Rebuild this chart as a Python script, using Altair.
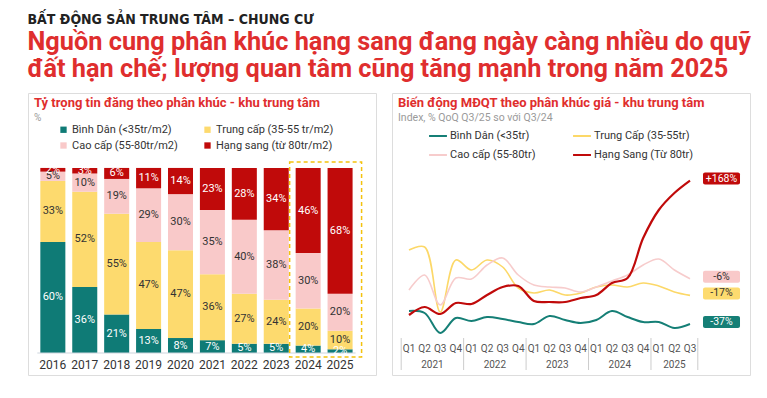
import altair as alt
import pandas as pd

# ---------------- data: stacked bars ----------------
years = ["2016", "2017", "2018", "2019", "2020", "2021", "2022", "2023", "2024", "2025"]
seg_names = ["Bình Dân (<35tr/m2)", "Trung cấp (35-55 tr/m2)", "Cao cấp (55-80tr/m2)", "Hạng sang (từ 80tr/m2)"]
binh_dan = [60, 36, 21, 13, 8, 7, 5, 5, 4, 2]
trung_cap = [33, 52, 55, 47, 47, 36, 27, 24, 20, 10]
cao_cap = [5, 10, 19, 29, 30, 35, 40, 38, 30, 20]
hang_sang = [2, 3, 6, 11, 14, 23, 28, 34, 46, 68]
seg_colors = ["#0f7b76", "#fdda6e", "#f9c9c9", "#c00a0a"]
seg_text = ["#ffffff", "#333333", "#333333", "#ffffff"]
highlight_years = ["2024", "2025"]

# ---------------- data: lines ----------------
q_years = [2021] * 4 + [2022] * 4 + [2023] * 4 + [2024] * 4 + [2025] * 3
q_names = ["Q1", "Q2", "Q3", "Q4"] * 4 + ["Q1", "Q2", "Q3"]
line_names = ["Bình Dân (<35tr)", "Trung Cấp (35-55tr)", "Cao cấp (55-80tr)", "Hạng Sang (Từ 80tr)"]
teal_idx = [25, 23, 3, 18, 15, 19, 17, 14, 12, 20, 16, 13, 16, 25, 19, 14, 14, 8, 12]
yellow_idx = [86, 89, 24, 76, 66, 76, 69, 48, 43, 46, 41, 43, 49, 51, 49, 53, 50, 44, 40.6]
pink_idx = [46, 61, 31, 58, 57, 71, 78, 61, 51, 49, 48, 44, 49, 55, 61, 71, 77, 66, 57.3]
red_idx = [21, 29, 22, 33, 32, 41, 49, 50, 35, 34, 34, 38, 41, 53, 58, 98, 126, 143, 155.4]
end_labels = ["-37%", "-17%", "-6%", "+168%"]
line_colors = ["#157f76", "#fcd868", "#f7cccc", "#c00a0a"]
box_colors = ["#157f76", "#fddb6f", "#f9c9c9", "#c00a0a"]
box_text = ["#ffffff", "#333333", "#333333", "#ffffff"]
line_widths = [2, 1.6, 1.6, 2.2]

RED = "#df2e2e"
FONT = "Roboto"

# legends are filled column by column: order entries so rows read like the reference
leg_order = [0, 2, 1, 3]

# ---------------- build tables ----------------
rows = []
for i, y in enumerate(years):
    for k, vals in enumerate([binh_dan, trung_cap, cao_cap, hang_sang]):
        rows.append({"year": y, "seg": seg_names[k], "ord": k, "v": vals[i],
                     "label": f"{vals[i]}%", "tc": seg_text[k]})
bar_df = pd.DataFrame(rows)
hl_df = pd.DataFrame({"a": [highlight_years[0]], "b": [highlight_years[-1]]})
base_df = pd.DataFrame({"a": [years[0]], "b": [years[-1]]})

lrows = []
for k, series in enumerate([teal_idx, yellow_idx, pink_idx, red_idx]):
    for t, v in enumerate(series):
        lrows.append({"t": t, "yr": q_years[t], "q": q_names[t], "s": line_names[k], "v": v,
                      "sw": line_widths[k], "pct": end_labels[k], "bc": box_colors[k],
                      "tc": box_text[k]})
line_df = pd.DataFrame(lrows)

yr_rows = []
uniq_years = sorted(set(q_years))
for y in uniq_years:
    ts = [t for t, yy in enumerate(q_years) if yy == y]
    yr_rows.append({"yr": str(y), "mid": sum(ts) / len(ts)})
yr_df = pd.DataFrame(yr_rows)
bounds = [min(t for t, yy in enumerate(q_years) if yy == y) - 0.5 for y in uniq_years] + [len(q_years) - 0.5]
sep_df = pd.DataFrame({"b": bounds})
q_df = pd.DataFrame({"t": list(range(len(q_names))), "q": q_names})

# ---------------- left panel ----------------
W1, H = 348, 282
xscale = alt.Scale(domain=years, paddingInner=0.216, paddingOuter=0.56, align=0.345)
yscale = alt.Scale(domain=[-0.119, 1.405], nice=False, zero=False)

bars = alt.Chart(bar_df).mark_bar().encode(
    x=alt.X("year:N", scale=xscale,
            axis=alt.Axis(orient="bottom", offset=-22, domain=False, ticks=False, labelAngle=0,
                          labelPadding=6, labelFontSize=12, labelColor="#333333", title=None)),
    y=alt.Y("v:Q", stack="normalize", scale=yscale, axis=None),
    order=alt.Order("ord:Q", sort="ascending"),
    color=alt.Color("seg:N",
                    scale=alt.Scale(domain=[seg_names[i] for i in leg_order],
                                    range=[seg_colors[i] for i in leg_order]),
                    legend=alt.Legend(title=None, orient="none", legendX=30, legendY=31,
                                      columns=2, columnPadding=24, symbolType="square",
                                      symbolSize=40, labelFontSize=11, labelColor="#333333",
                                      labelOffset=3, rowPadding=4, labelFont=FONT)),
)

bar_labels = alt.Chart(bar_df).transform_stack(
    stack="v", groupby=["year"], sort=[alt.SortField("ord", order="ascending")],
    as_=["v0", "v1"], offset="normalize"
).transform_calculate(mid="(datum.v0 + datum.v1) / 2").mark_text(fontSize=11, font=FONT).encode(
    x=alt.X("year:N", scale=xscale),
    y=alt.Y("mid:Q", scale=yscale),
    text="label:N",
    color=alt.Color("tc:N", scale=None),
)

baseline = alt.Chart(base_df).mark_rule(color="#cdd5dd", strokeWidth=1.2, xOffset=-3, x2Offset=3).encode(
    x=alt.X("a:N", bandPosition=0, scale=xscale),
    x2=alt.X2("b:N", bandPosition=1),
    y=alt.datum(0),
)

hl_box = alt.Chart(hl_df).mark_rect(fillOpacity=0, stroke="#f4c20d", strokeDash=[4, 3], strokeWidth=1.5,
                                    xOffset=-6, x2Offset=9, yOffset=4, y2Offset=-6).encode(
    x=alt.X("a:N", bandPosition=0, scale=xscale),
    x2=alt.X2("b:N", bandPosition=1),
    y=alt.datum(0),
    y2=alt.datum(1),
)

left = alt.layer(bars, baseline, bar_labels, hl_box).properties(
    width=W1, height=H,
    title=alt.TitleParams(text="Tỷ trọng tin đăng theo phân khúc - khu trung tâm", subtitle="%",
                          anchor="start", frame="group", dx=6, offset=-30, font=FONT, fontSize=13,
                          fontWeight="bold", color=RED, subtitleFont=FONT, subtitleFontSize=10,
                          subtitleColor="#9a9a9a", subtitlePadding=3),
)

# ---------------- right panel ----------------
W2 = 358
tscale = alt.Scale(domain=[-1.089, 21.843], nice=False, zero=False)
vscale = alt.Scale(domain=[-39, 243], nice=False, zero=False)

seps = alt.Chart(sep_df).transform_calculate(ya="-2", yb="-34").mark_rule(
    color="#cccccc", strokeWidth=1).encode(
    x=alt.X("b:Q", scale=tscale),
    y=alt.Y("ya:Q", scale=vscale),
    y2="yb:Q",
)

year_text = alt.Chart(yr_df).transform_calculate(yy="-29").mark_text(
    fontSize=10, color="#555555", font=FONT).encode(
    x=alt.X("mid:Q", scale=tscale),
    y=alt.Y("yy:Q", scale=vscale),
    text="yr:N",
)

q_text = alt.Chart(q_df).transform_calculate(yy="-13").mark_text(
    fontSize=10, color="#555555", font=FONT).encode(
    x=alt.X("t:Q", scale=tscale),
    y=alt.Y("yy:Q", scale=vscale),
    text="q:N",
)

lines = alt.Chart(line_df).mark_line(interpolate="catmull-rom").encode(
    x=alt.X("t:Q", scale=tscale, axis=None),
    y=alt.Y("v:Q", scale=vscale, axis=None),
    color=alt.Color("s:N",
                    scale=alt.Scale(domain=[line_names[i] for i in leg_order],
                                    range=[line_colors[i] for i in leg_order]),
                    legend=alt.Legend(title=None, orient="none", legendX=36, legendY=33,
                                      columns=2, columnPadding=33, symbolType="stroke",
                                      symbolSize=320, symbolStrokeWidth=2, labelFontSize=11,
                                      labelColor="#333333", labelOffset=2, rowPadding=4,
                                      labelFont=FONT)),
    size=alt.Size("sw:Q", scale=None, legend=None),
    order=alt.Order("t:Q"),
)

last_t = len(q_years) - 1
end_boxes = alt.Chart(line_df).transform_filter(f"datum.t == {last_t}").mark_rect(
    xOffset=13, x2Offset=50, yOffset=-8, y2Offset=4, cornerRadius=2).encode(
    x=alt.X("t:Q", scale=tscale), x2="t:Q",
    y=alt.Y("v:Q", scale=vscale), y2="v:Q",
    fill=alt.Fill("bc:N", scale=None),
)
end_text = alt.Chart(line_df).transform_filter(f"datum.t == {last_t}").mark_text(
    dx=31.5, dy=-2, fontSize=10.5, font=FONT).encode(
    x=alt.X("t:Q", scale=tscale),
    y=alt.Y("v:Q", scale=vscale),
    text="pct:N",
    color=alt.Color("tc:N", scale=None),
)

right = alt.layer(lines, seps, year_text, q_text, end_boxes, end_text).properties(
    width=W2, height=H,
    title=alt.TitleParams(text="Biến động MĐQT theo phân khúc giá - khu trung tâm",
                          subtitle="Index, % QoQ Q3/25 so với Q3/24",
                          anchor="start", frame="group", dx=6, offset=-30, font=FONT, fontSize=13,
                          fontWeight="bold", color=RED, subtitleFont=FONT, subtitleFontSize=10.5,
                          subtitleColor="#9a9a9a", subtitlePadding=3),
)

chart = alt.hconcat(left, right, spacing=14).resolve_scale(
    color="independent"
).resolve_legend(color="independent").properties(
    title=alt.TitleParams(
        text="BẤT ĐỘNG SẢN TRUNG TÂM – CHUNG CƯ",
        subtitle=["Nguồn cung phân khúc hạng sang đang ngày càng nhiều do quỹ",
                  "đất hạn chế; lượng quan tâm cũng tăng mạnh trong năm 2025"],
        anchor="start", font="Liberation Sans Narrow, DejaVu Sans Condensed, sans-serif",
        fontSize=14, fontWeight="bold", color="#222222",
        subtitleFont=FONT, subtitleFontSize=25.3, subtitleFontWeight="bold", subtitleColor=RED,
        subtitleLineHeight=27, subtitlePadding=3, offset=10,
    ),
    padding={"left": 19, "top": 5, "right": 5, "bottom": 5},
).configure_view(stroke="#dddddd", strokeWidth=1).configure(font=FONT)

chart.save("out.html", embed_options={"renderer": "svg", "actions": False})
